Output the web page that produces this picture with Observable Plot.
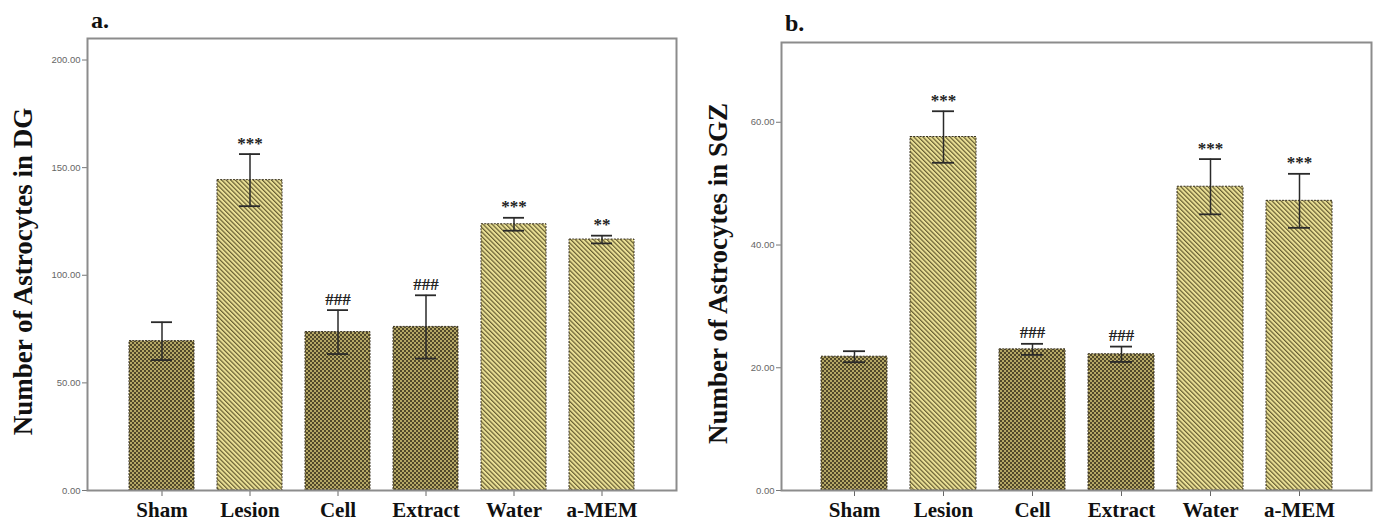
<!DOCTYPE html>
<html>
<head>
<meta charset="utf-8">
<script src="https://cdn.jsdelivr.net/npm/d3@7"></script>
<script src="https://cdn.jsdelivr.net/npm/@observablehq/plot@0.6"></script>
<style>
  html, body { margin: 0; padding: 0; background: #fff; }
  #wrap { position: relative; width: 1381px; height: 521px; overflow: hidden; }
  .panel { position: absolute; top: 0; }
  .tag { position: absolute; font-family: "Liberation Serif", "Times New Roman", serif; font-weight: bold; font-size: 24px; color: #111; line-height: 1; }
</style>
</head>
<body>
<div id="wrap">
  <div class="panel" id="pa" style="left:0px"></div>
  <div class="panel" id="pb" style="left:690px"></div>
  <div class="tag" style="left:91px; top:8px;">a.</div>
  <div class="tag" style="left:785px; top:11px;">b.</div>
</div>
<script>
// ---- data ----
const groups = ["Sham", "Lesion", "Cell", "Extract", "Water", "a-MEM"];
const kinds = ["dark", "light", "dark", "dark", "light", "light"];

const dgMean = [69.4, 144.2, 73.6, 76.0, 123.7, 116.6];
const dgErr  = [8.8, 12.1, 10.2, 14.7, 3.0, 1.8];
const dgSig  = ["", "***", "###", "###", "***", "**"];
const dgTicks = [0, 50, 100, 150, 200];

const sgzMean = [21.8, 57.6, 23.0, 22.2, 49.5, 47.2];
const sgzErr  = [0.9, 4.2, 0.9, 1.25, 4.5, 4.4];
const sgzSig  = ["", "***", "###", "###", "***", "***"];
const sgzTicks = [0, 20, 40, 60];

function rows(means, errs, sigs) {
  return groups.map((g, i) => ({
    group: g, kind: kinds[i], mean: means[i],
    lo: means[i] - errs[i], hi: means[i] + errs[i], sig: sigs[i]
  }));
}

function addPatterns(svg, id) {
  const defs = d3.select(svg).insert("defs", ":first-child");
  const dots = defs.append("pattern").attr("id", "dots-" + id)
    .attr("width", 4).attr("height", 4).attr("patternUnits", "userSpaceOnUse");
  dots.append("rect").attr("width", 4).attr("height", 4).attr("fill", "#51482a");
  dots.append("rect").attr("x", 0).attr("y", 0).attr("width", 2).attr("height", 2).attr("fill", "#b5a866");
  dots.append("rect").attr("x", 2).attr("y", 2).attr("width", 2).attr("height", 2).attr("fill", "#b5a866");
  const st = defs.append("pattern").attr("id", "stripes-" + id)
    .attr("width", 3.2).attr("height", 6).attr("patternUnits", "userSpaceOnUse")
    .attr("patternTransform", "rotate(-45)");
  st.append("rect").attr("width", 3.2).attr("height", 6).attr("fill", "#ebe196");
  st.append("rect").attr("width", 1.2).attr("height", 6).attr("fill", "#675e32");
}

function panel(id, data, yMax, ticks, yLabel, opts) {
  const mk = (kind, fill) => Plot.barY(data.filter(d => d.kind === kind), {
    x: "group", y: "mean", fill,
    stroke: "#3a3320", strokeWidth: 1, strokeDasharray: "2 1.2"
  });
  const chart = Plot.plot({
    width: opts.width, height: 521,
    marginLeft: opts.ml, marginRight: opts.mr, marginTop: opts.mt, marginBottom: 31,
    style: { background: "transparent", fontFamily: "Liberation Serif, serif" },
    x: { domain: groups, paddingInner: 0.26, paddingOuter: 0.44, label: null },
    y: { domain: [0, yMax], label: null },
    marks: [
      mk("dark", `url(#dots-${id})`),
      mk("light", `url(#stripes-${id})`),
      Plot.ruleX(data, { x: "group", y1: "lo", y2: "hi", stroke: "#2a2a2a", strokeWidth: 1.5 }),
      Plot.tickY(data, { x: "group", y: "hi", insetLeft: 22, insetRight: 22, stroke: "#2a2a2a", strokeWidth: 1.8 }),
      Plot.tickY(data, { x: "group", y: "lo", insetLeft: 22, insetRight: 22, stroke: "#2a2a2a", strokeWidth: 1.8 }),
      Plot.text(data, { x: "group", y: "hi", text: "sig", dy: -11, fontSize: 17, fontWeight: "bold",
        fontFamily: "Liberation Serif, serif", fill: "#222" }),
      Plot.axisY({ ticks, tickFormat: d3.format(".2f"), tickSize: 5, tickPadding: 2, fontSize: 9.5,
        fill: "#666", stroke: "#777", fontFamily: "Liberation Sans Narrow, Liberation Sans, Arial, sans-serif", label: null }),
      Plot.axisX({ tickSize: 6, tickPadding: 6, fontSize: 21, fontWeight: "bold",
        fontFamily: "Liberation Serif, serif", fill: "#111", stroke: "#666", label: null }),
      Plot.frame({ stroke: "#8c8c8c", strokeWidth: 2 }),
      Plot.text([yLabel], { frameAnchor: "left", textAnchor: "middle", rotate: -90, dx: opts.ldx, dy: 7,
        fontSize: 27, fontWeight: "bold", fontFamily: "Liberation Serif, serif", fill: "#111", text: d => d })
    ]
  });
  addPatterns(chart, id);
  document.getElementById(id).appendChild(chart);
}

panel("pa", rows(dgMean, dgErr, dgSig), 210, dgTicks, "Number of Astrocytes in DG",
  { width: 690, ml: 87, mr: 14, mt: 38, ldx: -64 });
panel("pb", rows(sgzMean, sgzErr, sgzSig), 73, sgzTicks, "Number of Astrocytes in SGZ",
  { width: 691, ml: 91, mr: 10, mt: 42, ldx: -63 });
</script>
</body>
</html>
